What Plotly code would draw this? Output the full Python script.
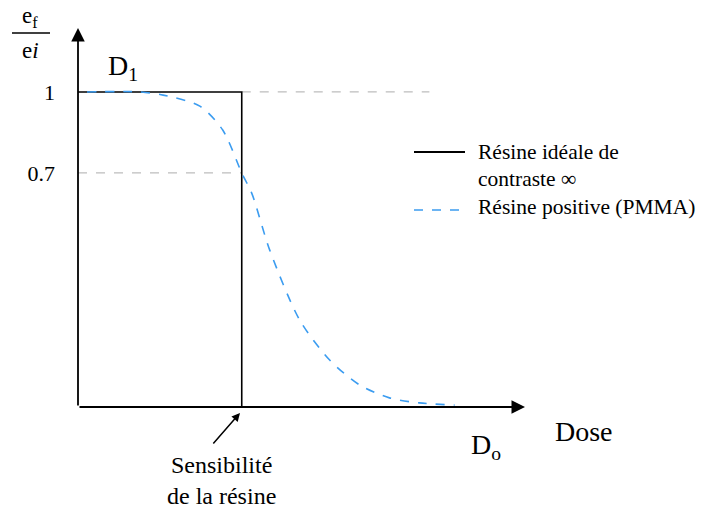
import plotly.graph_objects as go

# ---- data (schematic) ----
ideal_dose = [0, 1, 1, 2.62]
ideal_ratio = [1, 1, 0, 0]

pmma_dose = [0.055, 0.378, 0.52, 0.744, 0.884, 1.0, 1.061, 1.171, 1.354, 1.537, 1.72, 1.902, 2.085, 2.30]
pmma_ratio = [1.0, 1.0, 0.99, 0.955, 0.879, 0.743, 0.679, 0.498, 0.276, 0.149, 0.070, 0.029, 0.013, 0.006]

level_07 = 0.743
level_1 = 1.0
sensitivity_dose = 1.0
ref1_end = 2.146
tick_vals = [level_07, level_1]
tick_text = ["0.7", "1"]

X_MAX = 2.73
Y_MAX = 1.203

FONT = "Liberation Serif"
BLUE = "#3b9cf0"
GREY = "#bdbdbd"

# page pixel -> paper fraction helpers (plot area spans 78..525 x 28..407)
PL, PR, PT, PB = 78, 525, 28, 407


def px(x):
    return (x - PL) / (PR - PL)


def py(y):
    return (PB - y) / (PB - PT)


fig = go.Figure()

fig.add_trace(go.Scatter(x=[0, sensitivity_dose], y=[level_07, level_07], mode="lines",
                         line=dict(color=GREY, width=1.3, dash="dash"), showlegend=False, hoverinfo="skip"))
fig.add_trace(go.Scatter(x=[sensitivity_dose, ref1_end], y=[level_1, level_1], mode="lines",
                         line=dict(color=GREY, width=1.3, dash="dash"), showlegend=False, hoverinfo="skip"))

fig.add_trace(go.Scatter(x=ideal_dose, y=ideal_ratio, mode="lines",
                         name="Résine idéale de contraste ∞", showlegend=False,
                         line=dict(color="black", width=1.6), cliponaxis=False))
fig.add_trace(go.Scatter(x=pmma_dose, y=pmma_ratio, mode="lines",
                         name="Résine positive (PMMA)", showlegend=False,
                         line=dict(color=BLUE, width=1.6, dash="dash", shape="spline", smoothing=0.8)))

black = dict(family=FONT, color="black")

annotations = [
    # y axis arrow
    dict(x=0, y=Y_MAX, ax=0, ay=0, xref="x", yref="y", axref="x", ayref="y",
         showarrow=True, arrowhead=2, arrowsize=1.5, arrowwidth=1.8, arrowcolor="black", text=""),
    # x axis arrow
    dict(x=X_MAX, y=0, ax=0, ay=0, xref="x", yref="y", axref="x", ayref="y",
         showarrow=True, arrowhead=2, arrowsize=1.5, arrowwidth=1.8, arrowcolor="black", text=""),
    # sensitivity arrow
    dict(x=px(240), y=py(413), ax=-28, ay=32, xref="paper", yref="paper",
         axref="pixel", ayref="pixel",
         showarrow=True, arrowhead=2, arrowsize=1.1, arrowwidth=1.5, arrowcolor="black", text=""),
    dict(x=px(221), y=py(480), xref="paper", yref="paper", xanchor="center", yanchor="middle",
         text="Sensibilité<br>de la résine", showarrow=False, align="center",
         font=dict(size=24, **black)),
    dict(x=px(106), y=py(67), xref="paper", yref="paper", xanchor="left", yanchor="middle",
         text="D<sub>1</sub>", showarrow=False, font=dict(size=28, **black)),
    dict(x=px(469), y=py(446), xref="paper", yref="paper", xanchor="left", yanchor="middle",
         text="D<sub>o</sub>", showarrow=False, font=dict(size=28, **black)),
    dict(x=px(553), y=py(431), xref="paper", yref="paper", xanchor="left", yanchor="middle",
         text="Dose", showarrow=False, font=dict(size=28, **black)),
    # y axis title as a fraction
    dict(x=px(30), y=py(17), xref="paper", yref="paper", xanchor="center", yanchor="middle",
         text="e<sub>f</sub>", showarrow=False, font=dict(size=23, **black)),
    dict(x=px(30), y=py(50), xref="paper", yref="paper", xanchor="center", yanchor="middle",
         text="e<i>i</i>", showarrow=False, font=dict(size=23, **black)),
    # legend texts
    dict(x=px(476), y=py(152), xref="paper", yref="paper", xanchor="left", yanchor="middle",
         text="Résine idéale de", showarrow=False, font=dict(size=21.5, **black)),
    dict(x=px(476), y=py(179), xref="paper", yref="paper", xanchor="left", yanchor="middle",
         text="contraste ∞", showarrow=False, font=dict(size=21.5, **black)),
    dict(x=px(476), y=py(207), xref="paper", yref="paper", xanchor="left", yanchor="middle",
         text="Résine positive (PMMA)", showarrow=False, font=dict(size=21.5, **black)),
]

shapes = [
    # fraction bar
    dict(type="line", xref="paper", yref="paper", x0=px(12), x1=px(50), y0=py(33), y1=py(33),
         line=dict(color="black", width=1.4)),
    # legend symbols
    dict(type="line", xref="paper", yref="paper", x0=px(414), x1=px(465), y0=py(152), y1=py(152),
         line=dict(color="black", width=1.8)),
    dict(type="line", xref="paper", yref="paper", x0=px(414), x1=px(465), y0=py(210), y1=py(210),
         line=dict(color=BLUE, width=1.6, dash="dash")),
]

fig.update_layout(
    width=702, height=508,
    margin=dict(l=78, r=177, t=28, b=101, autoexpand=False),
    paper_bgcolor="white", plot_bgcolor="white",
    font=dict(family=FONT, color="black"),
    xaxis=dict(range=[0, X_MAX], showgrid=False, zeroline=False, showline=False,
               showticklabels=False, ticks="", automargin=False),
    yaxis=dict(range=[0, Y_MAX], showgrid=False, zeroline=False, showline=False,
               tickvals=tick_vals, ticktext=tick_text, ticks="", ticklabelstandoff=22,
               automargin=False, tickfont=dict(family=FONT, size=22, color="black")),
    showlegend=False,
    annotations=annotations,
    shapes=shapes,
)

fig.write_html("out.html", config={"displayModeBar": False},
               post_script="document.body.style.margin='0';document.body.style.overflow='hidden';")
